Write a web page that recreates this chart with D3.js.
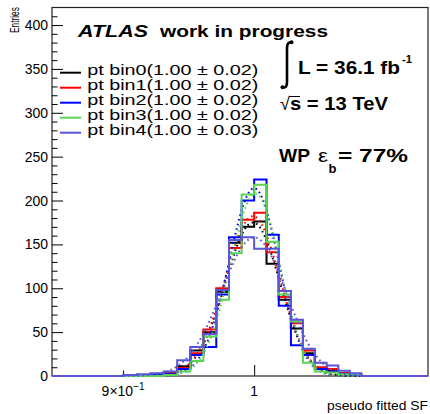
<!DOCTYPE html>
<html><head><meta charset="utf-8">
<script src="https://cdn.jsdelivr.net/npm/d3@7"></script>
<style>
body{margin:0;background:#fff}
svg{display:block}
text{font-family:"Liberation Sans",Arial,Helvetica,sans-serif;fill:#000}
</style>
</head><body>
<svg id="c" width="430" height="414"></svg>
<script>
// ---- data ----
const binEdges = [0.85,0.86,0.87,0.88,0.89,0.90,0.91,0.92,0.93,0.94,0.95,0.96,0.97,0.98,0.99,1.00,
                  1.01,1.02,1.03,1.04,1.05,1.06,1.07,1.08,1.09,1.10,1.11,1.12,1.13,1.14,1.15];
const seriesNames = ["pt bin0","pt bin1","pt bin2","pt bin3","pt bin4"];
const fitLabels = ["(1.00 ± 0.02)","(1.00 ± 0.02)","(1.00 ± 0.02)","(1.00 ± 0.02)","(1.00 ± 0.03)"];
const bin0 = [0,0,0,0,0,0,0,1,3,11,29,50,96,152,170,176,128,87,54,26,9,6,3,1,0,0,0,0,0,0];
const bin1 = [0,0,0,0,0,0,0,1,3,9,26,53,100,146,178,186,141,90,60,29,10,8,3,1,0,0,0,0,0,0];
const bin2 = [0,0,0,0,0,0,0,1,2,8,24,33,93,158,200,224,161,80,35,24,8,5,2,1,0,0,0,0,0,0];
const bin3 = [0,0,0,0,0,0,0,0,1,5,17,45,87,140,207,218,153,93,62,15,5,4,2,2,0,0,0,0,0,0];
const bin4 = [0,0,0,0,0,1,2,3,5,18,33,48,98,155,158,145,145,97,64,31,15,12,6,3,0,0,0,0,0,0];
const fitAmp   = [175, 182, 214, 208, 158];
const fitMean  = [0.999, 0.999, 1.000, 1.001, 1.000];
const fitSigma = [0.022, 0.022, 0.020, 0.020, 0.026];
const fitRange = [0.90, 1.09];
const yMajorTicks = [0,50,100,150,200,250,300,350,400];
const xTickVals = [0.9, 1];
const xTickBase = ["9×10", "1"];
const xTickExp  = ["−1", ""];
const colors = ["#000000","#ff0000","#0000ff","#59d454","#5954d8"];

// ---- layout ----
const svg = d3.select("#c");
const L = 52, R = 428, T = 7.5, B = 376;
const x = d3.scaleLog().domain([0.85, 1.15]).range([L, R]);
const y = d3.scaleLinear().domain([0, 420]).range([B, T]);

svg.append("defs").append("clipPath").attr("id","clip")
  .append("rect").attr("x",L).attr("y",T).attr("width",R-L).attr("height",B-T+1);

// frame
svg.append("rect").attr("x",L).attr("y",T).attr("width",R-L).attr("height",B-T)
  .attr("fill","none").attr("stroke","#222").attr("stroke-width",1.2);

// y axis major
const yAx = svg.append("g").attr("transform",`translate(${L},0)`)
  .call(d3.axisLeft(y).tickValues(yMajorTicks).tickSizeInner(-11).tickSizeOuter(0).tickPadding(4));
yAx.select(".domain").remove();
yAx.selectAll("text").attr("font-size",14).attr("fill","#000");
// y minor ticks
const yMinor = d3.range(0, 411, 10).filter(v => v % 50 !== 0);
const yAxm = svg.append("g").attr("transform",`translate(${L},0)`)
  .call(d3.axisLeft(y).tickValues(yMinor).tickSizeInner(-5.5).tickSizeOuter(0).tickFormat(""));
yAxm.select(".domain").remove();

// x axis ticks (inward)
xTickVals.forEach((v,i) => {
  const g = svg.append("g").attr("transform",`translate(0,${B})`)
    .call(d3.axisBottom(x).tickValues([v]).tickSizeInner(i===0 ? -5.5 : -11).tickSizeOuter(0).tickFormat(""));
  g.select(".domain").remove();
  const t = svg.append("text").attr("x", x(v)).attr("y", 396).attr("text-anchor","middle").attr("font-size",14);
  t.append("tspan").text(xTickBase[i]);
  if (xTickExp[i]) t.append("tspan").attr("dy",-6).attr("font-size",10).text(xTickExp[i]);
});

// histograms
const plot = svg.append("g").attr("clip-path","url(#clip)");
const allSeries = [bin0, bin1, bin2, bin3, bin4];
const stepLine = d3.line().x(d => x(d[0])).y(d => y(d[1])).curve(d3.curveStepAfter);
allSeries.forEach((vals, s) => {
  const pts = vals.map((v,i) => [binEdges[i], v]);
  pts.push([binEdges[binEdges.length-1], vals[vals.length-1]]);
  plot.append("path").attr("d", stepLine(pts)).attr("fill","none")
    .attr("stroke", colors[s]).attr("stroke-width", 2);
  // gaussian fit (dotted)
  const xs = d3.range(0, 201).map(k => fitRange[0] + (fitRange[1]-fitRange[0]) * k / 200);
  const fpts = xs.map(xv => [xv, fitAmp[s] * Math.exp(-0.5 * Math.pow((xv - fitMean[s]) / fitSigma[s], 2))]);
  plot.append("path").attr("d", d3.line().x(d => x(d[0])).y(d => y(d[1]))(fpts))
    .attr("fill","none").attr("stroke", colors[s]).attr("stroke-width", 2)
    .attr("stroke-dasharray","1.6,3.2");
});

// y title
svg.append("text").attr("transform","translate(18.5,33) rotate(-90) scale(0.64,1)").attr("text-anchor","start")
  .attr("font-size",13).text("Entries");
// x title
svg.append("text").attr("x",428).attr("y",410).attr("text-anchor","end").attr("font-size",12.5)
  .attr("textLength",101).attr("lengthAdjust","spacingAndGlyphs").text("pseudo fitted SF");

// ATLAS label
svg.append("text").attr("x",78).attr("y",36.5).attr("font-size",16.5).attr("font-weight","bold")
  .attr("font-style","italic").attr("textLength",70).attr("lengthAdjust","spacingAndGlyphs").text("ATLAS");
svg.append("text").attr("x",160).attr("y",36.5).attr("font-size",16.5).attr("font-weight","bold")
  .attr("textLength",168).attr("lengthAdjust","spacingAndGlyphs").text("work in progress");

// legend
seriesNames.forEach((n,i) => {
  const by = 75 + 15*i;
  svg.append("line").attr("x1",60).attr("x2",81).attr("y1",by-2.3).attr("y2",by-2.3)
    .attr("stroke",colors[i]).attr("stroke-width",2);
  svg.append("text").attr("x",87.3).attr("y",by).attr("font-size",15.5)
    .attr("textLength",171).attr("lengthAdjust","spacingAndGlyphs").text(n + fitLabels[i]);
});

// luminosity
svg.append("path").attr("d","M291.5,42 C288,42 287,44 287,48 L287,82 C287,86 286,88 282.5,87.5")
  .attr("fill","none").attr("stroke","#000").attr("stroke-width",2.6);
svg.append("circle").attr("cx",291.5).attr("cy",42.3).attr("r",2);
svg.append("circle").attr("cx",282.5).attr("cy",87.3).attr("r",2);
svg.append("text").attr("x",298).attr("y",74).attr("font-size",19).attr("font-weight","bold")
  .attr("textLength",102).attr("lengthAdjust","spacingAndGlyphs").text("L = 36.1 fb");
svg.append("text").attr("x",402).attr("y",62.5).attr("font-size",11).attr("font-weight","bold")
  .attr("textLength",10).attr("lengthAdjust","spacingAndGlyphs").text("-1");
// sqrt s
svg.append("text").attr("x",280).attr("y",110).attr("font-size",18).text("√");
svg.append("line").attr("x1",289).attr("x2",300).attr("y1",96.5).attr("y2",96.5).attr("stroke","#000").attr("stroke-width",1);
svg.append("text").attr("x",290).attr("y",110).attr("font-size",19).attr("font-weight","bold")
  .attr("textLength",98).attr("lengthAdjust","spacingAndGlyphs").text("s = 13 TeV");

// WP
svg.append("text").attr("x",279).attr("y",161.7).attr("font-size",18.5).attr("font-weight","bold")
  .attr("textLength",31).attr("lengthAdjust","spacingAndGlyphs").text("WP");
svg.append("text").attr("x",318).attr("y",161.7).attr("font-size",18)
  .attr("textLength",10).attr("lengthAdjust","spacingAndGlyphs").text("ε");
svg.append("text").attr("x",328.5).attr("y",172.5).attr("font-size",13).attr("font-weight","bold").text("b");
svg.append("text").attr("x",338).attr("y",161.7).attr("font-size",18.5).attr("font-weight","bold")
  .attr("textLength",70).attr("lengthAdjust","spacingAndGlyphs").text("= 77%");
</script>
</body></html>
